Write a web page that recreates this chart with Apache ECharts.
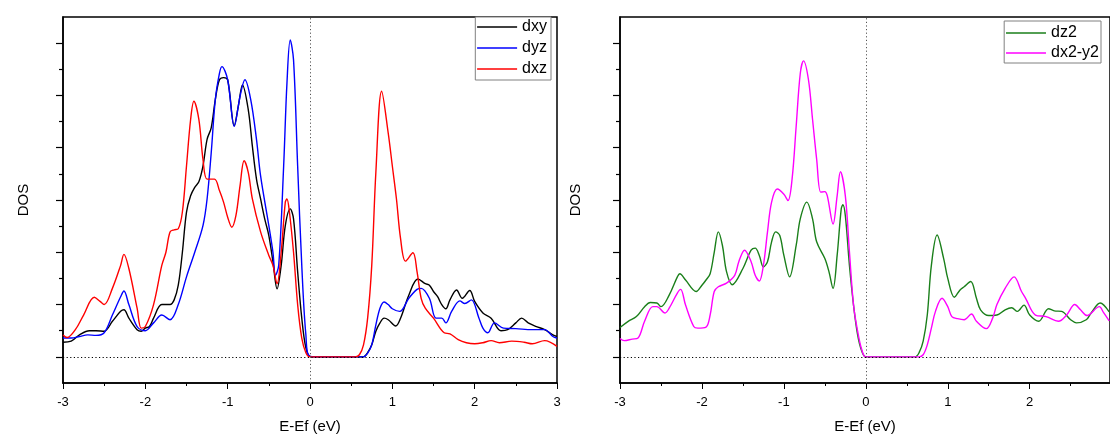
<!DOCTYPE html>
<html>
<head>
<meta charset="utf-8">
<script src="https://cdn.jsdelivr.net/npm/echarts@6/dist/echarts.min.js"></script>
<style>html,body{margin:0;padding:0;background:#fff;}#c{width:1110px;height:439px;}</style>
</head>
<body>
<div id="c"></div>
<script>
// ---- data (energy in eV, DOS in arbitrary units; 1 unit = one major y tick) ----
const dxyE = [-3,-2.9,-2.8,-2.68,-2.6,-2.5,-2.4,-2.3,-2.26,-2.2,-2.1,-2.05,-2.0,-1.95,-1.9,-1.8,-1.7,-1.65,-1.6,-1.55,-1.5,-1.45,-1.4,-1.35,-1.3,-1.25,-1.2,-1.15,-1.1,-1.05,-1.0,-0.92,-0.87,-0.82,-0.75,-0.7,-0.65,-0.6,-0.55,-0.5,-0.45,-0.4,-0.35,-0.3,-0.24,-0.2,-0.15,-0.1,-0.05,0,0.1,0.3,0.5,0.65,0.7,0.75,0.8,0.85,0.9,0.95,1.04,1.1,1.2,1.31,1.4,1.45,1.5,1.55,1.6,1.65,1.7,1.78,1.85,1.94,2.0,2.1,2.2,2.32,2.4,2.5,2.57,2.65,2.75,2.85,2.95,3.0];
const dxyDos = [0.28,0.30,0.42,0.5,0.5,0.49,0.68,0.87,0.9,0.74,0.52,0.49,0.55,0.58,0.74,1.0,1.0,1.09,1.37,2.0,2.77,3.08,3.24,3.35,3.65,4.16,4.38,4.92,5.3,5.34,5.3,4.42,4.8,5.2,4.73,4.03,3.4,3.02,2.64,2.32,1.82,1.3,1.75,2.51,2.83,2.64,1.63,0.74,0.17,0.01,0,0,0,0,0.08,0.23,0.49,0.65,0.74,0.71,0.59,0.74,1.18,1.49,1.4,1.37,1.25,1.15,1.0,0.92,1.09,1.28,1.12,1.27,1.06,0.84,0.74,0.5,0.52,0.65,0.74,0.65,0.58,0.52,0.42,0.39];

const dyzE = [-3,-2.9,-2.8,-2.7,-2.6,-2.5,-2.4,-2.3,-2.26,-2.2,-2.1,-2.0,-1.9,-1.8,-1.7,-1.6,-1.5,-1.4,-1.3,-1.25,-1.2,-1.15,-1.1,-1.07,-1.0,-0.92,-0.85,-0.79,-0.72,-0.65,-0.6,-0.5,-0.45,-0.42,-0.38,-0.32,-0.28,-0.24,-0.2,-0.15,-0.1,-0.05,0,0.2,0.4,0.65,0.7,0.75,0.8,0.85,0.9,0.95,1.0,1.09,1.2,1.3,1.35,1.45,1.53,1.6,1.65,1.72,1.82,1.88,1.96,2.05,2.1,2.16,2.24,2.35,2.5,2.7,2.85,2.95,3.0];
const dyzDos = [0.36,0.36,0.39,0.42,0.41,0.46,0.8,1.15,1.26,1.0,0.58,0.5,0.65,0.8,0.71,1.0,1.53,2.0,2.51,3.02,3.9,4.92,5.42,5.55,5.3,4.41,4.98,5.3,4.92,4.16,3.46,2.51,2.0,1.56,1.75,3.65,5.23,6.06,5.68,3.65,1.75,0.42,0.01,0,0,0,0.07,0.23,0.61,0.93,1.05,1.0,0.92,0.87,1.12,1.29,1.31,1.12,0.74,0.74,0.65,0.87,1.07,1.02,1.09,0.75,0.55,0.46,0.65,0.55,0.54,0.52,0.52,0.39,0.36];

const dxzE = [-3,-2.95,-2.85,-2.75,-2.62,-2.55,-2.5,-2.4,-2.3,-2.26,-2.2,-2.1,-2.05,-2.0,-1.9,-1.8,-1.75,-1.7,-1.65,-1.6,-1.55,-1.5,-1.45,-1.41,-1.35,-1.3,-1.25,-1.16,-1.1,-1.05,-1.0,-0.95,-0.9,-0.85,-0.8,-0.75,-0.7,-0.6,-0.5,-0.45,-0.4,-0.35,-0.3,-0.28,-0.25,-0.2,-0.15,-0.1,-0.05,0,0.2,0.4,0.55,0.6,0.65,0.7,0.75,0.8,0.87,0.95,1.0,1.05,1.1,1.16,1.25,1.3,1.35,1.4,1.5,1.63,1.7,1.8,1.9,2.0,2.1,2.2,2.3,2.45,2.6,2.7,2.85,3.0];
const dxzDos = [0.42,0.37,0.52,0.8,1.14,1.06,1.0,1.31,1.75,1.96,1.69,0.93,0.55,0.58,1.0,1.75,2.0,2.39,2.43,2.45,2.77,3.65,4.54,4.89,4.54,3.78,3.4,3.4,3.18,2.96,2.67,2.48,2.7,3.27,3.75,3.53,3.02,2.39,1.94,1.75,1.4,2.0,2.96,3.02,2.77,2.0,1.0,0.36,0.08,0,0,0,0,0.04,0.23,0.74,1.75,3.53,5.08,4.28,3.65,3.02,2.26,1.83,1.99,1.63,1.12,0.93,0.74,0.46,0.44,0.33,0.27,0.25,0.27,0.31,0.27,0.3,0.28,0.25,0.31,0.2];

const dz2E = [-3,-2.9,-2.8,-2.7,-2.63,-2.55,-2.5,-2.4,-2.3,-2.27,-2.2,-2.07,-2.0,-1.95,-1.9,-1.85,-1.8,-1.75,-1.7,-1.63,-1.5,-1.4,-1.35,-1.3,-1.25,-1.2,-1.15,-1.1,-1.05,-1.0,-0.93,-0.85,-0.8,-0.72,-0.65,-0.6,-0.5,-0.45,-0.4,-0.35,-0.3,-0.28,-0.25,-0.2,-0.15,-0.1,-0.05,0,0.3,0.6,0.65,0.7,0.75,0.8,0.87,0.95,1.0,1.08,1.15,1.2,1.28,1.35,1.4,1.5,1.6,1.7,1.78,1.85,1.93,2.0,2.11,2.23,2.3,2.39,2.5,2.57,2.69,2.75,2.86,2.97];
const dz2Dos = [0.56,0.68,0.77,0.96,1.04,1.03,0.96,1.18,1.53,1.59,1.47,1.25,1.37,1.47,1.59,2.0,2.39,2.13,1.63,1.38,1.69,2.04,2.08,1.94,1.72,1.82,2.2,2.39,2.32,1.94,1.53,2.13,2.64,2.96,2.64,2.2,1.88,1.63,1.31,1.94,2.83,2.91,2.7,1.75,0.99,0.42,0.11,0,0,0,0.08,0.3,0.8,1.75,2.33,1.88,1.5,1.14,1.28,1.34,1.44,1.12,0.9,0.79,0.8,0.9,0.94,0.87,0.99,0.8,0.68,0.92,0.88,0.87,0.71,0.65,0.71,0.84,1.03,0.86];

const dx2y2E = [-3,-2.95,-2.85,-2.78,-2.7,-2.6,-2.55,-2.45,-2.4,-2.3,-2.26,-2.2,-2.1,-2.05,-1.95,-1.9,-1.85,-1.8,-1.7,-1.6,-1.55,-1.48,-1.4,-1.35,-1.3,-1.25,-1.2,-1.15,-1.08,-1.0,-0.95,-0.9,-0.85,-0.8,-0.76,-0.7,-0.65,-0.6,-0.55,-0.5,-0.47,-0.4,-0.35,-0.31,-0.25,-0.2,-0.15,-0.1,-0.05,0,0.3,0.65,0.7,0.75,0.8,0.85,0.93,1.0,1.05,1.12,1.2,1.29,1.35,1.47,1.55,1.6,1.7,1.81,1.9,1.95,2.07,2.2,2.35,2.45,2.55,2.62,2.7,2.85,2.9,2.97];
const dx2y2Dos = [0.35,0.31,0.34,0.36,0.68,0.96,0.96,0.84,0.93,1.22,1.29,0.99,0.58,0.55,0.57,0.8,1.25,1.34,1.41,1.56,1.82,2.04,1.82,1.56,1.45,1.75,2.39,2.96,3.21,3.11,2.99,3.4,4.41,5.42,5.66,5.3,4.54,3.78,3.15,3.16,3.08,2.54,3.08,3.54,3.08,2.01,0.99,0.49,0.14,0,0,0,0.04,0.23,0.55,0.87,1.12,0.96,0.77,0.73,0.71,0.82,0.68,0.54,0.75,1.0,1.31,1.53,1.25,1.12,0.8,0.77,0.68,0.8,1.0,0.9,0.79,0.96,0.85,0.69];

const majorYTicks = [0,1,2,3,4,5,6];
const minorYTicks = [0.5,1.5,2.5,3.5,4.5,5.5];
const xTitle = 'E-Ef (eV)';
const yTitle = 'DOS';

// ---- chart ----
const FONT = '"Liberation Sans", Arial, sans-serif';
const pairs = (E, D) => E.map((e, i) => [e, D[i]]);
const chart = echarts.init(document.getElementById('c'), null, {renderer: 'canvas'});

function xAxisFor(gridIndex, max) {
  return {
    type: 'value', gridIndex, position: 'bottom', min: -3, max: max, interval: 1,
    axisLine: {show: true, onZero: false, lineStyle: {color: '#000', width: 1.5}},
    axisTick: {show: true, inside: false, length: 6, lineStyle: {color: '#000', width: 1}},
    minorTick: {show: true, splitNumber: 2, length: 3, lineStyle: {color: '#000', width: 1}},
    axisLabel: {show: true, color: '#000', fontSize: 13, fontFamily: FONT, margin: 13, showMaxLabel: max === 3},
    splitLine: {show: false}, minorSplitLine: {show: false},
    name: xTitle, nameLocation: 'middle', nameGap: 36,
    nameTextStyle: {color: '#000', fontSize: 15, fontFamily: FONT}
  };
}
function yMajor(gridIndex, gap) {
  return {
    type: 'value', gridIndex, position: 'left', min: -0.5, max: 6.5,
    axisLine: {show: true, onZero: false, lineStyle: {color: '#000', width: 1.5}},
    axisTick: {show: true, inside: false, length: 7, customValues: majorYTicks, lineStyle: {color: '#000', width: 1.2}},
    axisLabel: {show: false},
    splitLine: {show: false},
    name: yTitle, nameLocation: 'middle', nameGap: gap, nameRotate: 90,
    nameTextStyle: {color: '#000', fontSize: 15, fontFamily: FONT}
  };
}
function yMinor(gridIndex) {
  return {
    type: 'value', gridIndex, position: 'left', min: -0.5, max: 6.5,
    axisLine: {show: false, onZero: false},
    axisTick: {show: true, inside: false, length: 4, customValues: minorYTicks, lineStyle: {color: '#000', width: 1.2}},
    axisLabel: {show: false},
    splitLine: {show: false}
  };
}
function lineSeries(name, E, D, color, xi, yi) {
  return {
    name, type: 'line', xAxisIndex: xi, yAxisIndex: yi, data: pairs(E, D),
    showSymbol: false, symbol: 'none', smooth: 0.35,
    lineStyle: {color, width: 1.4}, itemStyle: {color},
    clip: true, z: 3
  };
}
const refLines = {
  silent: true, symbol: ['none', 'none'], label: {show: false}, animation: false,
  lineStyle: {type: [1.2, 2.4], width: 1, color: '#000'},
  emphasis: {disabled: true},
  data: [
    {yAxis: 0, lineStyle: {color: '#000', type: [1.2, 2.4], width: 1}},
    {xAxis: 0, lineStyle: {color: '#555', type: [1.2, 2.4], width: 1}}
  ]
};
const legendBase = {
  orient: 'vertical', itemWidth: 40, itemHeight: 14,
  borderColor: '#808080', borderWidth: 1, backgroundColor: '#fff',
  itemStyle: {opacity: 0, borderWidth: 0},
  lineStyle: {width: 1.6},
  textStyle: {color: '#000', fontSize: 16, fontFamily: FONT}
};

const series = [
  lineSeries('dxy', dxyE, dxyDos, '#000000', 0, 0),
  lineSeries('dyz', dyzE, dyzDos, '#0000ff', 0, 0),
  lineSeries('dxz', dxzE, dxzDos, '#ff0000', 0, 0),
  lineSeries('dz2', dz2E, dz2Dos, '#1a7f1a', 1, 2),
  lineSeries('dx2-y2', dx2y2E, dx2y2Dos, '#ff00ff', 1, 2)
];
series[0].markLine = refLines;
series[3].markLine = JSON.parse(JSON.stringify(refLines));

chart.setOption({
  animation: false,
  backgroundColor: '#fff',
  grid: [
    {left: 63, top: 17, width: 494, height: 368, show: true, borderColor: '#000', borderWidth: 1.5, backgroundColor: 'transparent'},
    {left: 620, top: 17, width: 492, height: 368, show: true, borderColor: '#000', borderWidth: 1.5, backgroundColor: 'transparent'}
  ],
  xAxis: [xAxisFor(0, 3), xAxisFor(1, 2.98)],
  yAxis: [yMajor(0, 32), yMinor(0), yMajor(1, 37), yMinor(1)],
  legend: [
    Object.assign({}, legendBase, {data: ['dxy', 'dyz', 'dxz'], right: 559, top: 17, itemGap: 5, padding: [2, 4, 3, 1]}),
    Object.assign({}, legendBase, {data: ['dz2', 'dx2-y2'], right: 9, top: 21, itemGap: 4, padding: [4, 2, 2, 1]})
  ],
  series
});
</script>
</body>
</html>
